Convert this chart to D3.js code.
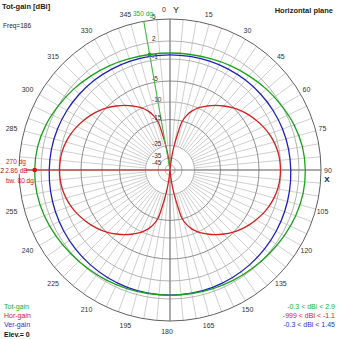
<!DOCTYPE html>
<html><head><meta charset="utf-8">
<script src="https://cdn.jsdelivr.net/npm/d3@7"></script>
<style>body{margin:0;background:#fff}svg{display:block;font-family:"Liberation Sans",Arial,sans-serif}</style>
</head><body><svg id="c" width="339" height="339"></svg>
<script>
// ---- data ----
const ringDb = [5, 2, -1, -5, -10, -15, -25, -35, -45];
const ringLabels = ["5", "2", "-1", "-5", "-10", "-15", "-25", "-35", "-45"];
const angleLabels = [0,15,30,45,60,75,90,105,120,135,150,165,180,195,210,225,240,255,270,285,300,315,330,345];
const horAngles = [0,6,8,10,12,14,17,20,25,30,35,40,45,50,55,60,65,70,75,80,85,
  90,95,100,105,110,115,120,125,130,135,140,145,150,155,160,163,166,168,170,172,174,
  180,186,188,190,192,194,197,200,205,210,215,220,225,230,235,240,245,250,255,260,265,
  270,275,280,285,290,295,300,305,310,315,320,325,330,335,340,343,346,348,350,352,354];
const horGain = [-999,-45,-32,-24.4,-20.2,-15.2,-13.1,-11.6,-9.8,-8.6,-7.4,-6.3,-5.2,-4.4,-3.7,-3.1,-2.5,-2.0,-1.6,-1.3,-1.15,
  -1.1,-1.15,-1.3,-1.6,-2.0,-2.5,-3.1,-3.7,-4.4,-5.2,-6.3,-7.4,-8.6,-9.8,-11.6,-13.1,-15.2,-20.2,-24.4,-32,-45,
  -999,-45,-32,-24.4,-20.2,-15.2,-13.1,-11.6,-9.8,-8.6,-7.4,-6.3,-5.2,-4.4,-3.7,-3.1,-2.5,-2.0,-1.6,-1.3,-1.15,
  -1.1,-1.15,-1.3,-1.6,-2.0,-2.5,-3.1,-3.7,-4.4,-5.2,-6.3,-7.4,-8.6,-9.8,-11.6,-13.1,-15.2,-20.2,-24.4,-32,-45];
const angle10 = d3.range(0, 360, 10);
const verGain = [-0.3,-0.28,-0.2,-0.08,0.06,0.2,0.34,0.46,0.56,0.63,0.72,0.82,0.93,1.04,1.14,1.23,1.3,1.34,
  1.35,1.34,1.3,1.23,1.14,1.04,0.93,0.82,0.72,0.63,0.56,0.46,0.34,0.2,0.06,-0.08,-0.2,-0.28];
const totGain = [0.0,0.05,0.25,0.6,0.98,1.47,1.96,2.41,2.74,2.86,2.84,2.65,2.38,2.11,1.88,1.7,1.52,1.4,
  1.38,1.4,1.52,1.7,1.88,2.11,2.38,2.65,2.84,2.86,2.74,2.41,1.96,1.47,0.98,0.6,0.25,0.05];
const legendNames = ["Tot-gain", "Hor-gain", "Ver-gain"];
const legendRanges = ["-0.3 < dBi < 2.9", "-999 < dBi < -1.1", "-0.3 < dBi < 1.45"];
const colors = ["#1aa31a", "#d42020", "#2020c0"];
const textColors = ["#22b022", "#d42020", "#3030c8"];
const cursorAngle = 350, markAngle = 270, markGain = 2.86;

// ---- layout ----
const svg = d3.select("#c");
const cx = 170, cy = 170;
const rScale = d3.scaleLinear()
  .domain([5, 2, -1, -5, -10, -15, -25, -35, -45, -60])
  .range([151, 129, 111, 89, 68, 50.5, 24.5, 12, 5, 0]).clamp(true);
const rad = d => d * Math.PI / 180;
const g = svg.append("g").attr("transform", `translate(${cx},${cy})`);
const defs = svg.append("defs");
defs.append("clipPath").attr("id", "clip270").append("rect").attr("x", 0).attr("y", 150).attr("width", 4.3).attr("height", 40);

// spokes every 5 deg
g.selectAll("line.sp").data(d3.range(0, 360, 5)).join("line")
  .attr("x1", d => rScale(-25) * Math.sin(rad(d))).attr("y1", d => -rScale(-25) * Math.cos(rad(d)))
  .attr("x2", d => rScale(5) * Math.sin(rad(d))).attr("y2", d => -rScale(5) * Math.cos(rad(d)))
  .attr("stroke", "#d0d0d0").attr("stroke-width", 1);
// rings
const ringColor = d => d === 5 ? "#606060" : (d === -5 || d === -15) ? "#8e8e8e" : "#b4b4b4";
g.selectAll("circle.ring").data(ringDb).join("circle")
  .attr("r", d => rScale(d)).attr("fill", "none")
  .attr("stroke", ringColor).attr("stroke-width", 1);
// axes
g.append("line").attr("x1", 0).attr("x2", 0).attr("y1", -rScale(5)).attr("y2", rScale(5)).attr("stroke", "#707070");
g.append("line").attr("x1", -rScale(5)).attr("x2", rScale(5)).attr("y1", 0).attr("y2", 0).attr("stroke", "#707070");

// curves
const radial = (vals, angs) => d3.lineRadial().curve(d3.curveCatmullRomClosed.alpha(0.5))
  .angle((d, i) => rad(angs[i])).radius(d => rScale(d))(vals);
g.append("path").attr("d", radial(horGain, horAngles)).attr("fill", "none").attr("stroke", colors[1]).attr("stroke-width", 1.3);
g.append("path").attr("d", radial(verGain, angle10)).attr("fill", "none").attr("stroke", colors[2]).attr("stroke-width", 1.3);
g.append("path").attr("d", radial(totGain, angle10)).attr("fill", "none").attr("stroke", colors[0]).attr("stroke-width", 1.3);

// cursor lines
const ca = rad(cursorAngle);
g.append("line").attr("x1", 0).attr("y1", 0).attr("x2", rScale(5) * Math.sin(ca)).attr("y2", -rScale(5) * Math.cos(ca))
  .attr("stroke", "#3cc03c").attr("stroke-width", 1);
const totAtCursor = totGain[angle10.indexOf(cursorAngle)];
g.append("circle").attr("cx", rScale(totAtCursor) * Math.sin(ca)).attr("cy", -rScale(totAtCursor) * Math.cos(ca)).attr("r", 2).attr("fill", "#1aa31a");
const ma = rad(markAngle);
g.append("line").attr("x1", 0).attr("y1", 0).attr("x2", rScale(5) * Math.sin(ma)).attr("y2", 0)
  .attr("stroke", "#e03030").attr("stroke-width", 1);

// angle labels
const fs = 7;
svg.selectAll("text.al").data(angleLabels).join("text")
  .attr("x", d => d === 0 ? 164 : cx + 161 * Math.sin(rad(d)) - 3)
  .attr("y", d => cy - 161 * Math.cos(rad(d)))
  .attr("text-anchor", "middle").attr("dominant-baseline", "central")
  .attr("font-size", fs).attr("fill", "#333")
  .attr("clip-path", d => d === 270 ? "url(#clip270)" : null)
  .text(d => d);
svg.append("text").attr("x", 176).attr("y", 10).attr("text-anchor", "middle").attr("dominant-baseline", "central")
  .attr("font-size", 9).attr("fill", "#222").text("Y");
svg.append("text").attr("x", cx + 157).attr("y", cy + 9).attr("text-anchor", "middle").attr("dominant-baseline", "central")
  .attr("font-size", 8).attr("fill", "#222").attr("font-weight", "bold").text("X");

// dB labels
svg.selectAll("text.dl").data(ringDb).join("text")
  .attr("x", 152).attr("y", d => cy - rScale(d) - 2.3)
  .attr("dominant-baseline", "central").attr("font-size", 6.5).attr("fill", "#333")
  .text((d, i) => ringLabels[i]);

// cursor label
svg.append("text").attr("x", 133).attr("y", 13.5).attr("dominant-baseline", "central")
  .attr("font-size", 6.5).attr("fill", "#22b022").text(cursorAngle + " dg");

// marker texts (red) with white backdrop
const mt = [[markAngle + " dg", 161.5, 6], [markGain.toFixed(2) + " dB", 170, 5.2], ["bw. 80 dg", 180, 6]];
svg.append("rect").attr("x", 4.6).attr("y", 166).attr("width", 21).attr("height", 8).attr("fill", "#fff");
svg.selectAll("text.mt").data(mt).join("text")
  .attr("x", d => d[2]).attr("y", d => d[1]).attr("dominant-baseline", "central")
  .attr("font-size", 6.5).attr("fill", "#d42020").text(d => d[0]);
g.append("circle").attr("cx", -rScale(markGain)).attr("cy", 0).attr("r", 2.3).attr("fill", "#e01010");

// titles
svg.append("text").attr("x", 2).attr("y", 6.5).attr("dominant-baseline", "central")
  .attr("font-size", 7.5).attr("font-weight", "bold").attr("fill", "#222").text("Tot-gain [dBi]");
svg.append("text").attr("x", 3).attr("y", 25).attr("dominant-baseline", "central")
  .attr("font-size", 6.5).attr("fill", "#222").text("Freq=186");
svg.append("text").attr("x", 333).attr("y", 10).attr("text-anchor", "end").attr("dominant-baseline", "central")
  .attr("font-size", 7.5).attr("font-weight", "bold").attr("fill", "#222").text("Horizontal plane");

// legends
svg.selectAll("text.ln").data(legendNames).join("text")
  .attr("x", 4).attr("y", (d, i) => 306.5 + i * 9.2).attr("dominant-baseline", "central")
  .attr("font-size", 7).attr("fill", (d, i) => textColors[i]).text(d => d);
svg.append("text").attr("x", 4).attr("y", 334).attr("dominant-baseline", "central")
  .attr("font-size", 7).attr("font-weight", "bold").attr("fill", "#111").text("Elev.= 0");
svg.selectAll("text.lr").data(legendRanges).join("text")
  .attr("x", 335).attr("y", (d, i) => 306.5 + i * 9.2).attr("text-anchor", "end").attr("dominant-baseline", "central")
  .attr("font-size", 7).attr("fill", (d, i) => textColors[i]).text(d => d);
</script></body></html>
